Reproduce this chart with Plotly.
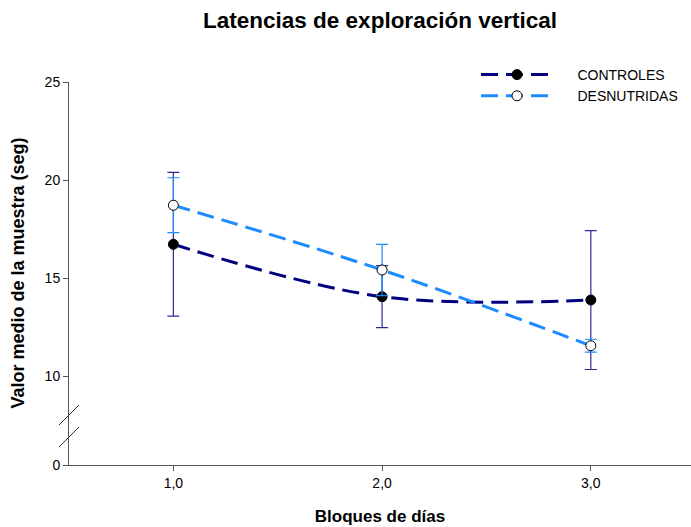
import plotly.graph_objects as go

# ---- data ----
bloques = [1, 2, 3]
bloque_labels = ["1,0", "2,0", "3,0"]

controles_media = [16.73, 14.06, 13.89]
controles_err = [3.66, 1.58, 3.54]

desnutridas_media = [18.72, 15.42, 11.56]
desnutridas_err = [1.40, 1.31, 0.33]

y_ticks_upper = [10, 15, 20, 25]
y_ticks_lower = [0]

# ---- layout geometry ----
W, H = 691, 527
ML, MR, MT, MB = 69, 0, 82, 62
PW, PH = W - ML - MR, H - MT - MB
low_frac = (465 - 426) / PH

FONT = "Arial, Liberation Sans, sans-serif"
NAVY = "#000080"
NAVY_ERR = "#2b2b98"
BLUE = "#1a8cff"
PAD = "\u00a0" * 5

fig = go.Figure()

fig.add_trace(go.Scatter(
    x=bloques, y=controles_media, name=PAD + "CONTROLES",
    mode="lines+markers",
    line=dict(color=NAVY, width=3, dash="17px,8px", shape="spline", smoothing=1),
    marker=dict(color="black", size=10, line=dict(color="black", width=1)),
    error_y=dict(type="data", array=controles_err, visible=True,
                 color=NAVY_ERR, thickness=1.2, width=6),
    xaxis="x", yaxis="y",
))
fig.add_trace(go.Scatter(
    x=bloques, y=desnutridas_media, name=PAD + "DESNUTRIDAS",
    mode="lines+markers",
    line=dict(color=BLUE, width=3, dash="17px,8px", shape="spline", smoothing=1),
    marker=dict(color="white", size=10, line=dict(color="black", width=1)),
    error_y=dict(type="data", array=desnutridas_err, visible=True,
                 color=BLUE, thickness=1.2, width=6),
    xaxis="x", yaxis="y",
))
# empty trace so that the lower (broken) axis segment is drawn
fig.add_trace(go.Scatter(x=[], y=[], xaxis="x", yaxis="y2", showlegend=False,
                         hoverinfo="skip", mode="markers"))

axis_color = "#555555"

def px2paper_x(px):
    return (px - ML) / PW

def px2paper_y(py):
    return (H - MB - py) / PH

shapes = []
for (x0, y0, x1, y1) in [(59, 425, 79, 405), (59, 447, 79, 427)]:
    shapes.append(dict(type="line", xref="paper", yref="paper",
                       x0=px2paper_x(x0), y0=px2paper_y(y0),
                       x1=px2paper_x(x1), y1=px2paper_y(y1),
                       line=dict(color="#333333", width=1)))

common_y = dict(showline=True, linecolor=axis_color, linewidth=1,
                ticks="outside", ticklen=5, tickcolor=axis_color,
                showgrid=False, zeroline=False, anchor="x",
                tickfont=dict(size=14))

fig.update_layout(
    width=W, height=H,
    margin=dict(l=ML, r=MR, t=MT, b=MB),
    paper_bgcolor="white", plot_bgcolor="white",
    font=dict(family=FONT, size=14, color="black"),
    title=dict(text="<b>Latencias de exploración vertical</b>",
               font=dict(size=22.5, family=FONT, color="black"),
               x=0.5, xref="paper", xanchor="center",
               y=1 - 20 / H, yref="container", yanchor="middle"),
    xaxis=dict(range=[0.5, 3.48], tickvals=bloques, ticktext=bloque_labels,
               showline=True, linecolor=axis_color, linewidth=1,
               ticks="outside", ticklen=5, tickcolor=axis_color,
               showgrid=False, zeroline=False, anchor="y2",
               tickfont=dict(size=14),
               title=dict(text="<b>Bloques de días</b>", font=dict(size=17), standoff=20)),
    yaxis=dict(domain=[low_frac, 1], range=[7.47, 25], tickvals=y_ticks_upper, **common_y),
    yaxis2=dict(domain=[0, low_frac], range=[0, 1.99], tickvals=y_ticks_lower, **common_y),
    showlegend=True,
    legend=dict(x=px2paper_x(476), y=px2paper_y(59), xanchor="left", yanchor="top",
                bgcolor="rgba(0,0,0,0)", font=dict(size=14), itemwidth=72,
                tracegroupgap=0),
    shapes=shapes,
    annotations=[dict(text="<b>Valor medio de la muestra (seg)</b>",
                      textangle=-90, xref="paper", yref="paper",
                      x=px2paper_x(17), y=px2paper_y(273.5),
                      xanchor="center", yanchor="middle",
                      showarrow=False, font=dict(size=18, family=FONT))],
)

fig.write_html("out.html")
